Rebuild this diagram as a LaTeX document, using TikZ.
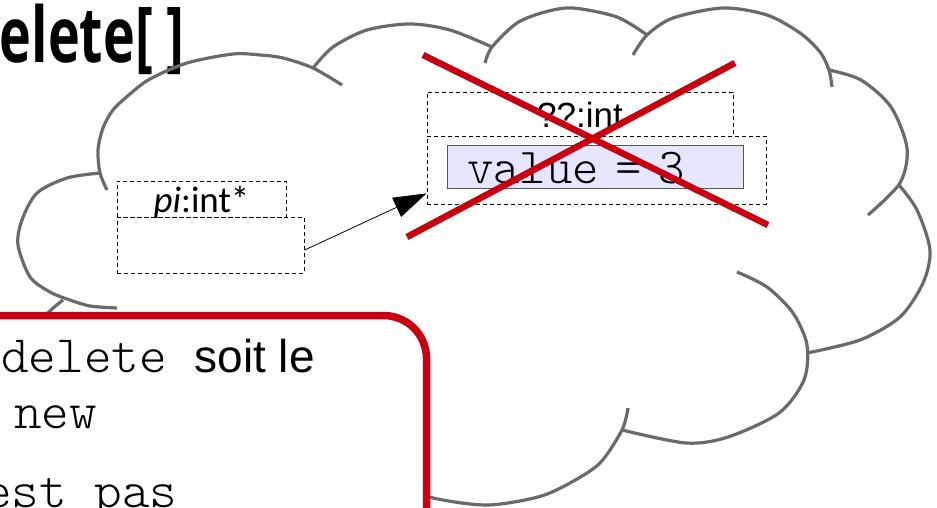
\documentclass[tikz,border=0pt]{standalone}
\usepackage{fontspec}
\usepackage{graphicx}
\setmainfont{Liberation Sans}
\newfontfamily\monofont{Latin Modern Mono Light}
\newfontfamily\calfont{Carlito}
\newfontfamily\titlefont{Open Sans}
\usetikzlibrary{arrows.meta,calc}
\definecolor{cloudgray}{RGB}{106,106,106}
\definecolor{alertred}{RGB}{200,0,16}
\definecolor{cellfill}{RGB}{230,230,255}
\definecolor{cellborder}{RGB}{85,85,85}
\begin{document}
\begin{tikzpicture}[x=1pt,y=-1pt,
  lobe/.style={draw=cloudgray, line width=3.2pt},
  cell/.style={draw, dash pattern=on 4pt off 3pt, line width=0.9pt, inner sep=0pt},
  cross/.style={draw=alertred, line width=6.5pt},
  txt/.style={inner sep=0pt, anchor=base west, font=\fontsize{46}{50}\selectfont},
  codetxt/.style={font=\monofont\fontsize{52.6}{56}\selectfont}]
\useasboundingbox (0,0) rectangle (937,508);
\clip (0,0) rectangle (937,508);

% title
\node[anchor=base east, inner sep=0pt] (title) at (185,63)
  {\scalebox{0.7}[1]{\titlefont\bfseries\fontsize{77}{80}\selectfont delete[ ]}};

% cloud outline, one arc per lobe
\draw[lobe] plot[smooth] coordinates {(107,190) (100,173) (98,150) (103,128) (113,110) (130,94) (150,79) (187,63) (233,54) (260,55) (283,58) (313,68) (342,85)};
\draw[lobe] plot[smooth] coordinates {(313,68) (333,47) (367,30) (410,24) (450,30) (492,47)};
\draw[lobe] plot[smooth] coordinates {(485,63) (492,47) (517,23) (545,12) (573,8) (617,17) (647,35)};
\draw[lobe] plot[smooth] coordinates {(633,55) (647,35) (673,18) (723,8) (767,15) (800,33) (820,52) (829,70) (832,87)};
\draw[lobe] plot[smooth] coordinates {(829,70) (861,80) (891,107) (907,148) (900,183) (868,215)};
\draw[lobe] plot[smooth] coordinates {(899,185) (917,210) (930,250) (923,283) (900,317) (860,340) (807,353)};
\draw[lobe] plot[smooth] coordinates {(737,272) (767,287) (793,313) (807,345) (804,380) (779,413) (728,437) (686,443) (622,430)};
\draw[lobe] plot[smooth] coordinates {(628,408) (622,430) (600,463) (570,483) (538,497) (486,505) (429,497) (390,480)};
\draw[lobe] plot[smooth] coordinates {(100,173) (67,178) (37,193) (22,220) (18,245) (30,277) (50,292) (67,299) (90,306) (117,308)};
\draw[lobe] plot[smooth] coordinates {(63,300) (48,313) (38,330)};

% pointer variable
\node[cell, minimum width=169pt, minimum height=36pt, text height=31pt, text depth=5pt,
      font=\calfont\fontsize{37}{40}\selectfont] (pilabel) at (201.5,199) {\itshape pi\upshape:int*};
\node[cell, minimum width=187pt, minimum height=56pt] (pival) at (210.5,245) {};

% pointed integer
\node[cell, minimum width=306pt, minimum height=44pt, text height=36pt, text depth=8pt,
      font=\fontsize{35}{40}\selectfont] (ptlabel) at (580,114) {??:int};
\node[cell, minimum width=339pt, minimum height=68pt] (ptval) at (596.5,170) {};
\node[draw=cellborder, fill=cellfill, line width=1pt, inner xsep=20pt, inner ysep=0pt,
      text width=256pt, align=left, text height=37pt, text depth=5pt,
      font=\monofont\fontsize{50.3}{52}\selectfont] (valbox) at (595,167) {value = 3};

% pointer arrow
\draw[-{Triangle[length=33pt,width=21pt]}, line width=0.8pt]
  ($(pival.south east)!0.41!(pival.north east)$) -- ($(ptval.south west)!0.16!(ptval.north west)$);

% crossed out
\draw[cross] (423,55) -- (768,225);
\draw[cross] (407,237) -- (735,63);

% note box
\draw[alertred, line width=7.5pt, fill=white, rounded corners=43pt] (-60,315.5) rectangle (426.5,620);
\node[txt] (line1) at (1,372) {{\monofont\fontsize{52.6}{56}\selectfont delete\ }soit le};
\node[txt, codetxt] (line2) at (14,428) {new};
\node[txt, codetxt] (line3) at (-16,507) {est pas};
\end{tikzpicture}
\end{document}
